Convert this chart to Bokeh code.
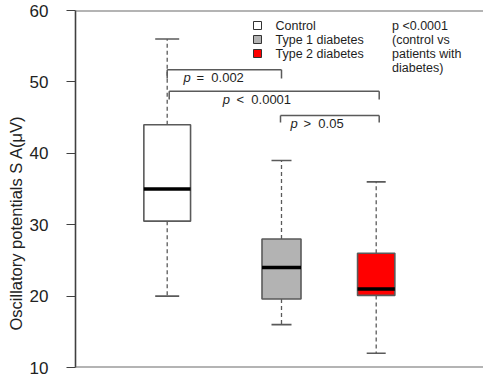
import math
from bokeh.plotting import figure
from bokeh.models import Range1d, FixedTicker, Span, Title, ColumnDataSource
from bokeh.core.properties import value
from bokeh.embed import file_html
from bokeh.resources import INLINE

# ---- data ----
categories = ["Control", "Type 1 diabetes", "Type 2 diabetes"]
whisker_low = [20, 16, 12]
q1 = [30.5, 19.6, 20.1]
median = [35, 24, 21]
q3 = [44, 28, 26]
whisker_high = [56, 39, 36]
fill_colors = ["#ffffff", "#b3b3b3", "#ff0000"]
y_ticks = [10, 20, 30, 40, 50, 60]
y_label = "Oscillatory potentials S A(\u03bcV)"

NB = "\u00a0"
comparisons = [
    ("p", "=" + NB * 2 + "0.002"),
    ("p", "<" + NB * 2 + "0.0001"),
    ("p", ">" + NB * 2 + "0.05"),
]
note_lines = ["p <0.0001", "(control vs", "patients with", "diabetes)"]

# ---- layout (not data) ----
W, H = 483, 378
LEFT, TOP, BOTTOM = 75, 10, 11
frame_h = H - TOP - BOTTOM
y0, y1 = 10, 60


def py(pix):
    """convert a pixel row of the picture into a y data value"""
    return y1 - (pix - TOP) * (y1 - y0) / frame_h


positions = [91.7, 206.0, 300.7]
box_widths = [46.7, 39.0, 37.3]
cap_widths = [24.0, 20.0, 19.0]

FONT = "Liberation Sans"
GREY = "#5a5a5a"
TXT = "#1e1e1e"

p = figure(width=W, height=H, output_backend="svg", toolbar_location=None,
           x_range=Range1d(0, W - LEFT), y_range=Range1d(y0, y1),
           min_border_left=LEFT, min_border_right=0, min_border_top=TOP,
           min_border_bottom=BOTTOM, tools="")
p.outline_line_color = None
p.grid.visible = False
p.xaxis.visible = False
p.background_fill_color = "white"
p.border_fill_color = "white"

ya = p.yaxis[0]
ya.ticker = FixedTicker(ticks=y_ticks)
ya.minor_tick_line_color = None
ya.major_tick_in = 0
ya.major_tick_out = 9
ya.major_tick_line_color = "#404040"
ya.major_tick_line_width = 1.2
ya.axis_line_color = "#404040"
ya.axis_line_width = 1.6
ya.major_label_text_font = FONT
ya.major_label_text_font_size = "17px"
ya.major_label_text_color = "#222222"
ya.major_label_standoff = 18

# y-axis title, placed as a side title so it can sit lower than the frame centre
p.add_layout(Title(text=y_label, align="left", offset=37, standoff=3,
                   text_font=FONT, text_font_size="16.5px", text_font_style="normal",
                   text_color="#222222"), "left")

# top and bottom frame lines
for loc in (y0, y1):
    p.add_layout(Span(location=loc, dimension="width", line_color="#6a6a6a", line_width=2))

src = ColumnDataSource(dict(x=positions, lo=whisker_low, q1=q1, med=median, q3=q3,
                            hi=whisker_high, w=box_widths, fill=fill_colors,
                            cl=[x - c / 2 for x, c in zip(positions, cap_widths)],
                            cr=[x + c / 2 for x, c in zip(positions, cap_widths)],
                            bl=[x - b / 2 for x, b in zip(positions, box_widths)],
                            br=[x + b / 2 for x, b in zip(positions, box_widths)]))

# whiskers
p.segment(x0="x", y0="q3", x1="x", y1="hi", source=src, line_color=GREY, line_width=1.3, line_dash="4 3")
p.segment(x0="x", y0="q1", x1="x", y1="lo", source=src, line_color=GREY, line_width=1.3, line_dash="4 3")
# caps
p.segment(x0="cl", y0="hi", x1="cr", y1="hi", source=src, line_color=GREY, line_width=1.6)
p.segment(x0="cl", y0="lo", x1="cr", y1="lo", source=src, line_color=GREY, line_width=1.6)
# boxes
p.vbar(x="x", top="q3", bottom="q1", width="w", source=src, fill_color="fill",
       line_color=GREY, line_width=1.6)
# medians
p.segment(x0="bl", y0="med", x1="br", y1="med", source=src, line_color="black", line_width=3.5)

# significance brackets
bx0 = [positions[0], positions[0] + 2, positions[1] - 1]
bx1 = [positions[1], positions[2] + 3, positions[2] + 3]
b_top = [py(69.3), py(90.7), py(115)]
b_bot = [py(78), py(99), py(122)]
p.segment(x0=bx0, y0=b_top, x1=bx1, y1=b_top, line_color=GREY, line_width=1.5)
p.segment(x0=bx0, y0=b_top, x1=bx0, y1=b_bot, line_color=GREY, line_width=1.5)
p.segment(x0=bx1, y0=b_top, x1=bx1, y1=b_bot, line_color=GREY, line_width=1.5)

p_x = [183 - LEFT, 222.3 - LEFT, 290 - LEFT]
rest_x = [196 - LEFT, 236 - LEFT, 303 - LEFT]
t_y = [py(77.3), py(99.3), py(122.7)]
p.text(x=p_x, y=t_y, text=[c[0] for c in comparisons], text_font=value(FONT),
       text_font_size="13px", text_font_style="italic", text_color=TXT,
       text_baseline="middle", text_align="left")
p.text(x=rest_x, y=t_y, text=[c[1] for c in comparisons], text_font=value(FONT),
       text_font_size="13px", text_color=TXT, text_baseline="middle", text_align="left")

# legend
leg_y = [py(25), py(39), py(53)]
p.scatter(x=[257 - LEFT] * 3, y=leg_y, marker="square", size=8, fill_color=fill_colors,
          line_color="#333333", line_width=1)
p.text(x=[275 - LEFT] * 3, y=leg_y, text=categories, text_font=value(FONT),
       text_font_size="12.5px", text_color=TXT, text_baseline="middle", text_align="left")

# note
note_y = [py(25), py(39), py(53), py(67)]
p.text(x=[391.5 - LEFT] * 4, y=note_y, text=note_lines, text_font=value(FONT),
       text_font_size="12.5px", text_color=TXT, text_baseline="middle", text_align="left")

open("out.html", "w").write(file_html(p, INLINE))
